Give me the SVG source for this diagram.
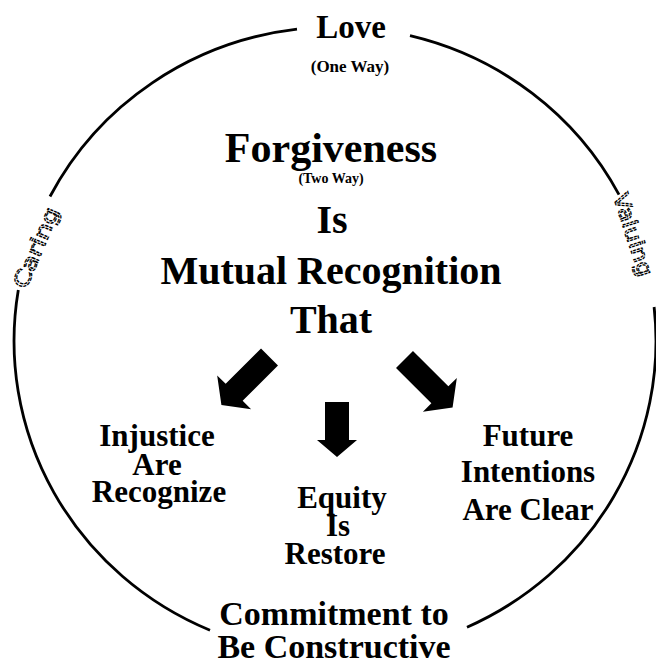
<svg xmlns="http://www.w3.org/2000/svg" width="656" height="665" viewBox="0 0 656 665">
  <style>
    text.t { font-family: "Liberation Serif", Tinos, "DejaVu Serif", serif; font-weight: 700; fill: #000; text-anchor: middle; }
    .ring { fill: none; stroke: #000; stroke-width: 2.8; stroke-linecap: butt; }
    text.hand { font-family: "DejaVu Sans", sans-serif; font-size: 21px; fill: #fff; stroke: #000; stroke-width: 1.2; stroke-dasharray: 3 1; }
    .arrow { fill: #000; }
  </style>
  <defs>
    <!-- block arrow pointing along +x, tail centred on the origin -->
    <polygon id="blockArrow" points="0,-12 50,-12 50,-24 68,0 50,24 50,12 0,12"/>
  </defs>

  <!-- ring broken where the labels sit, plus the three block arrows -->
  <g id="connectors">
    <path class="ring" d="M410,35.7 A321,314 0 0 1 619,194.7"/>
    <path class="ring" d="M654.1,307 A321,314 0 0 1 467,627.2"/>
    <path class="ring" d="M210,630.2 A321,314 0 0 1 18.3,290"/>
    <path class="ring" d="M50,196.5 A321,314 0 0 1 297,29.2"/>
    <use href="#blockArrow" class="arrow" transform="translate(269.5,357) rotate(135)"/>
    <use href="#blockArrow" class="arrow" transform="translate(404.5,359.5) rotate(45)"/>
    <polygon class="arrow" points="325,402 349,402 349,440 357,440 337,457 317,440 325,440"/>
  </g>

  <g id="love">
    <text class="t" x="351" y="38" font-size="33">Love</text>
    <text class="t" x="350" y="72" font-size="17">(One Way)</text>
  </g>

  <g id="caring">
    <text class="hand" transform="translate(26,290) rotate(-67)" textLength="86" lengthAdjust="spacingAndGlyphs">Caring</text>
  </g>

  <g id="valuing">
    <text class="hand" font-size="20" transform="translate(613,196) rotate(72)" textLength="86" lengthAdjust="spacingAndGlyphs">Valuing</text>
  </g>

  <g id="forgiveness">
    <text class="t" x="331" y="162" font-size="42">Forgiveness</text>
    <text class="t" x="331" y="183" font-size="14">(Two Way)</text>
    <text class="t" x="332" y="233" font-size="40">Is</text>
    <text class="t" x="331" y="284" font-size="40">Mutual Recognition</text>
    <text class="t" x="331" y="333" font-size="40">That</text>
  </g>

  <g id="injustice">
    <text class="t" x="157" y="446" font-size="31">Injustice</text>
    <text class="t" x="157" y="475" font-size="31">Are</text>
    <text class="t" x="159" y="502" font-size="31">Recognize</text>
  </g>

  <g id="equity">
    <text class="t" x="342" y="508" font-size="31">Equity</text>
    <text class="t" x="338" y="536" font-size="31">Is</text>
    <text class="t" x="335" y="564" font-size="31">Restore</text>
  </g>

  <g id="future">
    <text class="t" x="528" y="446" font-size="31">Future</text>
    <text class="t" x="528" y="482" font-size="31">Intentions</text>
    <text class="t" x="528" y="520" font-size="31">Are Clear</text>
  </g>

  <g id="commitment">
    <text class="t" x="334" y="625" font-size="34">Commitment to</text>
    <text class="t" x="334" y="658" font-size="34">Be Constructive</text>
  </g>
</svg>
